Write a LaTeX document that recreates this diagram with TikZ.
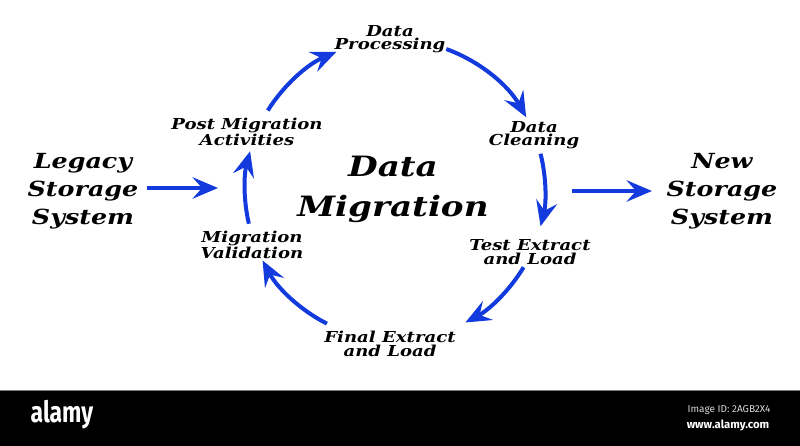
\documentclass[tikz,border=0pt]{standalone}
\usepackage{fontspec}
\setmainfont{DejaVu Serif}
\newfontfamily\wmfont{Fira Sans}
\usetikzlibrary{arrows.meta,calc}
\definecolor{flowblue}{RGB}{18,58,220}
\begin{document}
\begin{tikzpicture}[x=0.75pt,y=0.75pt,
  lbl/.style={font=\fontsize{11.3}{10}\selectfont\bfseries\itshape, align=center, inner sep=0pt, xscale=1.2},
  big/.style={font=\fontsize{21}{30}\selectfont\bfseries\itshape, align=center, inner sep=0pt, xscale=1.22},
  side/.style={font=\fontsize{15.6}{21}\selectfont\bfseries\itshape, align=center, inner sep=0pt, xscale=1.22},
  flow/.style={draw=flowblue, line width=3pt, -{Stealth[length=19pt,width=16pt,inset=7pt]}},
  wm/.style={text=white, inner sep=0pt}
]
\useasboundingbox (0,0) rectangle (800,446);
\fill[white] (0,0) rectangle (800,446);

% labels
\node[lbl] (proc)  at (390,407) {Data\\Processing};
\node[lbl] (post)  at (247,314) {Post Migration\\Activities};
\node[lbl] (clean) at (534,311) {Data\\Cleaning};
\node[lbl] (test)  at (530,194) {Test Extract\\and Load};
\node[lbl] (valid) at (252,201) {Migration\\Validation};
\node[lbl] (final) at (390,102) {Final Extract\\and Load};
\node[big] (dm)    at (393,257) {Data\\Migration};
\node[side] (legacy) at (83,255) {Legacy\\Storage\\System};
\node[side] (new)    at (722,255) {New\\Storage\\System};

% cycle
\coordinate (ctr) at (395,256);
\coordinate (s1) at ($(ctr)+(148:150)$);
\coordinate (s2) at ($(ctr)+(70:150)$);
\coordinate (s3) at ($(ctr)+(14:150)$);
\coordinate (s4) at ($(ctr)+(-31:150)$);
\coordinate (s5) at ($(ctr)+(-117:150)$);
\coordinate (s6) at ($(ctr)+(-167:150)$);
\draw[flow] (s1) arc[start angle=148, end angle=113, radius=150];
\draw[flow] (s2) arc[start angle=70, end angle=29, radius=150];
\draw[flow] (s3) arc[start angle=14, end angle=-14, radius=150];
\draw[flow] (s4) arc[start angle=-31, end angle=-62, radius=150];
\draw[flow] (s5) arc[start angle=-117, end angle=-152, radius=150];
\draw[flow] (s6) arc[start angle=-167, end angle=-195, radius=150];

% in / out
\coordinate (lin) at (147,258);
\coordinate (lend) at (218,258);
\coordinate (rin) at (572,255);
\coordinate (rend) at (652,255);
\draw[flow] (lin) -- (lend);
\draw[flow] (rin) -- (rend);

% watermark band
\fill[black] (0,0) rectangle (800,55);
\draw[gray, line width=0.75pt] (0,55) -- (800,55);
\node[wm, font=\wmfont\bfseries\fontsize{22}{22}\selectfont, xscale=0.78] (logo) at (62,31) {alamy};
\node[wm, font=\wmfont\fontsize{7.5}{7.5}\selectfont, text=white!85!black] (iid) at (729,36) {Image ID: 2AGB2X4};
\node[wm, font=\wmfont\bfseries\fontsize{8.5}{8.5}\selectfont] (url) at (728,21) {www.alamy.com};
\end{tikzpicture}
\end{document}
